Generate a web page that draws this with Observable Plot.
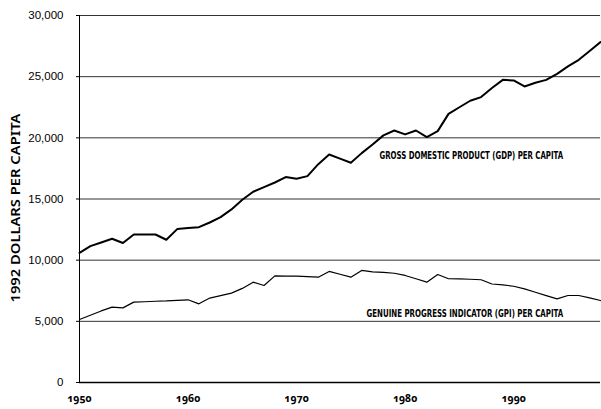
<!DOCTYPE html>
<html><head><meta charset="utf-8">
<script src="https://cdn.jsdelivr.net/npm/d3@7"></script>
<script src="https://cdn.jsdelivr.net/npm/@observablehq/plot@0.6"></script>
<style>
html,body{margin:0;padding:0;background:#fff;}
#chart svg{display:block;}
#chart g[aria-label="x-axis tick label"] text{
  font-family:"Noto Sans","Lato",sans-serif;font-weight:700;font-size:10.5px;
  font-variant-numeric:oldstyle-nums;font-feature-settings:"onum" 1;
}
#chart g[aria-label="y-axis tick label"] text{
  font-family:"Liberation Sans",Arial,sans-serif;font-size:11.5px;
}
</style></head><body><div id="chart"></div>
<script>
const years = [1950,1951,1952,1953,1954,1955,1956,1957,1958,1959,
  1960,1961,1962,1963,1964,1965,1966,1967,1968,1969,
  1970,1971,1972,1973,1974,1975,1976,1977,1978,1979,
  1980,1981,1982,1983,1984,1985,1986,1987,1988,1989,
  1990,1991,1992,1993,1994,1995,1996,1997,1998];
const gdpPerCapita = [10600,11150,11450,11750,11400,12100,12100,12100,11670,12540,
  12620,12700,13080,13520,14150,14940,15590,15970,16350,16790,
  16650,16870,17850,18640,18300,17960,18750,19450,20200,20600,
  20280,20600,20060,20550,21960,22500,23030,23330,24070,24740,
  24690,24200,24500,24740,25230,25840,26380,27100,27830];
const gpiPerCapita = [5150,5500,5850,6160,6100,6570,6600,6640,6670,6720,
  6760,6430,6900,7100,7310,7690,8200,7930,8720,8700,
  8690,8660,8610,9080,8850,8610,9160,9050,9010,8930,
  8750,8480,8200,8830,8480,8470,8440,8400,8050,7980,
  7870,7650,7380,7100,6840,7110,7110,6920,6700];
const yTicks = [0,5000,10000,15000,20000,25000,30000];
const xTicks = [1950,1960,1970,1980,1990];
const yTitle = "1992 DOLLARS PER CAPITA";
const gdpLabel = "GROSS DOMESTIC PRODUCT (GDP) PER CAPITA";
const gpiLabel = "GENUINE PROGRESS INDICATOR (GPI) PER CAPITA";

const data = years.map((year, i) => ({year, gdp: gdpPerCapita[i], gpi: gpiPerCapita[i]}));
const labelFont = "'Liberation Sans Narrow','DejaVu Sans Condensed','Liberation Sans',sans-serif";

const chart = Plot.plot({
  width: 601, height: 409,
  marginLeft: 79, marginRight: 1, marginTop: 15, marginBottom: 27,
  style: {fontFamily: "'Liberation Sans',Arial,sans-serif", fontSize: "11.5px", color: "#000", background: "#fff", overflow: "visible"},
  x: {domain: [1950, 1998], ticks: xTicks, tickFormat: d => String(d), tickSize: 0, tickPadding: 12, label: null},
  y: {domain: [0, 30000], ticks: yTicks, tickFormat: d3.format(","), tickSize: 3, tickPadding: 13, label: null},
  marks: [
    Plot.ruleY(yTicks.filter(d => d > 0), {stroke: "#333", strokeWidth: 1}),
    Plot.ruleX([1950], {y1: 0, y2: 30000, stroke: "#000", strokeWidth: 1}),
    Plot.ruleY([0], {stroke: "#000", strokeWidth: 1.3}),
    Plot.line(data, {x: "year", y: "gpi", stroke: "#000", strokeWidth: 1.2}),
    Plot.line(data, {x: "year", y: "gdp", stroke: "#000", strokeWidth: 2}),
    Plot.text([gdpLabel], {x: () => 1977.64, y: () => 18560, text: d => d, textAnchor: "start",
      fontFamily: labelFont, fontWeight: 600, fontSize: 10}),
    Plot.text([gpiLabel], {x: () => 1976.44, y: () => 5640, text: d => d, textAnchor: "start",
      fontFamily: labelFont, fontWeight: 600, fontSize: 10}),
    Plot.text([yTitle], {frameAnchor: "left", rotate: -90, dx: -64, dy: 103.5, text: d => d, textAnchor: "start",
      fontFamily: "'Noto Sans',sans-serif", fontWeight: 600, fontSize: 12.5})
  ]
});
document.getElementById("chart").appendChild(chart);

// compress annotations horizontally (along their reading direction) to the reference widths
const widths = new Map([[gdpLabel, 184], [gpiLabel, 197], [yTitle, 189]]);
d3.select(chart).selectAll("text").each(function() {
  const t = this.textContent;
  if (widths.has(t)) {
    const natural = this.getComputedTextLength();
    if (natural > 0) {
      const k = widths.get(t) / natural;
      this.setAttribute("transform", (this.getAttribute("transform") || "") + ` scale(${k.toFixed(4)},1)`);
    }
  }
});
</script>
</body></html>
